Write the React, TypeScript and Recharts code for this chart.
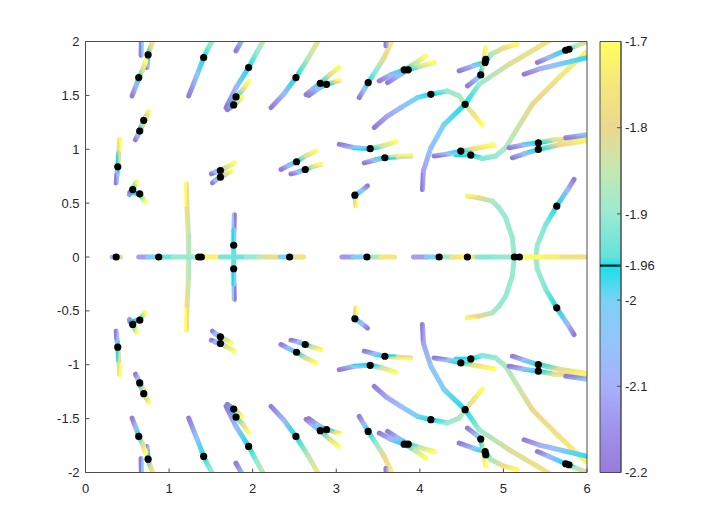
import React from 'react';
import { ComposedChart, Line, Scatter, XAxis, YAxis, BarChart, Bar, ReferenceLine } from 'recharts';

// [x, y, value], upper half (the lower half is its mirror image)
const u01 = [[0.669, 2.04, -2.02], [0.665, 1.87, -2.2]];
const u02 = [[0.82, 2.03, -1.72], [0.78, 1.95, -1.8], [0.749, 1.876, -1.96], [0.74, 1.8, -2.1], [0.737, 1.758, -2.2]];
const u03 = [[0.72, 1.82, -1.7], [0.68, 1.73, -1.82], [0.637, 1.665, -1.96], [0.6, 1.58, -2.08], [0.558, 1.495, -2.2]];
const u04 = [[1.54, 2.04, -1.86], [1.47, 1.94, -1.92], [1.414, 1.851, -1.96], [1.33, 1.68, -2.05], [1.235, 1.495, -2.2]];
const u05 = [[1.88, 2.02, -2.05], [1.8, 1.913, -2.2]];
const u06 = [[2.15, 2.04, -1.84], [2.05, 1.9, -1.9], [1.952, 1.758, -1.96], [1.801, 1.572, -2.07], [1.682, 1.386, -2.2]];
const u07 = [[1.952, 1.628, -1.7], [1.88, 1.55, -1.82], [1.801, 1.486, -1.96], [1.72, 1.4, -2.2]];
const u08 = [[1.87, 1.48, -1.7], [1.82, 1.44, -1.82], [1.773, 1.411, -1.96], [1.697, 1.367, -2.2]];
const u09 = [[2.81, 2.04, -1.75], [2.66, 1.84, -1.86], [2.518, 1.665, -1.96], [2.37, 1.51, -2.08], [2.219, 1.386, -2.2]];
const u10 = [[2.638, 1.507, -2.2], [2.72, 1.56, -2.08], [2.809, 1.612, -1.96], [2.92, 1.69, -1.82], [3.03, 1.758, -1.7]];
const u11 = [[2.67, 1.5, -2.2], [2.78, 1.56, -2.06], [2.884, 1.603, -1.96], [3.0, 1.63, -1.8], [3.036, 1.637, -1.7]];
const u12 = [[0.757, 1.349, -1.7], [0.73, 1.31, -1.82], [0.697, 1.268, -1.96], [0.665, 1.21, -2.08], [0.633, 1.153, -2.2]];
const u13 = [[0.72, 1.29, -1.72], [0.69, 1.23, -1.82], [0.649, 1.169, -1.96], [0.62, 1.12, -2.1], [0.598, 1.088, -2.2]];
const u14 = [[0.41, 1.09, -1.7], [0.398, 0.96, -1.82], [0.386, 0.837, -1.96], [0.375, 0.76, -2.08], [0.367, 0.688, -2.2]];
const u15 = [[0.61, 0.698, -1.7], [0.565, 0.626, -1.96], [0.526, 0.58, -2.15]];
const u16 = [[0.53, 0.6, -2.2], [0.649, 0.586, -1.96], [0.709, 0.516, -1.7]];
const u17 = [[1.207, 0.679, -1.7], [1.215, 0.45, -1.78], [1.231, 0.2, -1.85], [1.235, 0, -1.88]];
const u18 = [[1.781, 0.393, -2.2], [1.776, 0.25, -2.05], [1.773, 0.109, -1.96], [1.773, 0, -1.94]];
const u19 = [[1.506, 0.772, -2.2], [1.56, 0.79, -2.08], [1.614, 0.803, -1.96], [1.68, 0.83, -1.82], [1.781, 0.874, -1.7]];
const u20 = [[1.518, 0.688, -2.2], [1.56, 0.715, -2.08], [1.614, 0.741, -1.96], [1.68, 0.77, -1.82], [1.745, 0.797, -1.7]];
const u21 = [[2.339, 0.812, -2.2], [2.43, 0.85, -2.08], [2.525, 0.884, -1.96], [2.64, 0.94, -1.82], [2.757, 0.983, -1.7]];
const u22 = [[2.458, 0.772, -2.2], [2.55, 0.79, -2.08], [2.629, 0.812, -1.96], [2.72, 0.84, -1.82], [2.817, 0.859, -1.7]];
const u23 = [[3.685, 2.04, -1.72], [3.574, 1.851, -1.8], [3.474, 1.727, -1.9], [3.382, 1.619, -1.96], [3.33, 1.55, -2.06], [3.275, 1.479, -2.2]];
const u24 = [[3.6, 2.04, -2.1], [3.594, 1.96, -2.2]];
const u25 = [[3.514, 1.634, -2.2], [3.65, 1.69, -2.08], [3.813, 1.737, -1.96], [3.95, 1.8, -1.84], [4.072, 1.867, -1.7]];
const u26 = [[3.613, 1.619, -2.2], [3.74, 1.68, -2.08], [3.861, 1.737, -1.96], [4.0, 1.77, -1.84], [4.171, 1.805, -1.7]];
const u27 = [[3.454, 1.2, -2.2], [3.6, 1.3, -2.12], [3.773, 1.386, -2.06], [3.972, 1.479, -2.0], [4.132, 1.51, -1.96], [4.33, 1.541, -1.9], [4.47, 1.495, -1.88], [4.542, 1.417, -1.85], [4.649, 1.32, -1.76], [4.749, 1.225, -1.7]];
const u28 = [[4.031, 0.626, -2.2], [4.043, 0.8, -2.12], [4.132, 1.014, -2.05], [4.291, 1.231, -2.0], [4.542, 1.417, -1.96], [4.709, 1.603, -1.9], [5.068, 1.789, -1.82], [5.546, 2.007, -1.76]];
const u29 = [[3.036, 1.045, -2.2], [3.215, 1.014, -2.06], [3.406, 1.005, -1.96], [3.55, 1.03, -1.84], [3.713, 1.07, -1.7]];
const u30 = [[3.335, 0.874, -2.2], [3.46, 0.9, -2.06], [3.582, 0.921, -1.96], [3.74, 0.93, -1.82], [3.893, 0.937, -1.72]];
const u31 = [[3.374, 0.66, -2.2], [3.3, 0.614, -2.05], [3.223, 0.574, -1.96], [3.23, 0.52, -1.8], [3.235, 0.474, -1.7]];
const u32 = [[4.171, 0.937, -2.2], [4.351, 0.958, -2.05], [4.49, 0.983, -1.96], [4.649, 1.005, -1.78], [4.888, 1.039, -1.7]];
const u33 = [[4.43, 0.95, -2.0], [4.61, 0.946, -1.96], [4.749, 0.914, -1.92], [4.909, 0.937, -1.9], [5.028, 1.014, -1.88], [5.148, 1.169, -1.85], [5.346, 1.417, -1.8], [5.665, 1.665, -1.76], [5.984, 1.898, -1.72]];
const u34 = [[4.47, 1.727, -2.2], [4.649, 1.777, -2.05], [4.781, 1.805, -1.96], [4.85, 1.88, -1.88], [5.0, 1.94, -1.78], [5.167, 1.975, -1.7]];
const u35 = [[4.569, 1.588, -2.2], [4.685, 1.656, -2.05], [4.729, 1.69, -1.96], [4.76, 1.8, -1.78], [4.79, 1.94, -1.7]];
const u36 = [[5.406, 1.805, -2.2], [5.546, 1.851, -2.08], [5.745, 1.919, -1.96], [5.88, 1.963, -1.86], [6.0, 2.0, -1.8]];
const u37 = [[5.247, 1.696, -2.2], [5.45, 1.75, -2.1], [5.606, 1.777, -2.05], [6.0, 1.851, -1.97]];
const u38 = [[5.068, 1.014, -2.2], [5.247, 1.042, -2.07], [5.418, 1.06, -1.96], [5.606, 1.088, -1.82], [5.984, 1.107, -1.72]];
const u39 = [[5.107, 0.921, -2.2], [5.247, 0.958, -2.07], [5.418, 0.998, -1.96], [5.665, 1.042, -1.8], [5.984, 1.079, -1.72]];
const u40 = [[5.745, 1.107, -2.2], [6.0, 1.135, -2.05]];
const u41 = [[4.569, 0.565, -1.72], [4.709, 0.549, -1.8], [4.868, 0.518, -1.88], [4.948, 0.456, -1.9], [5.028, 0.363, -1.9], [5.107, 0.177, -1.9], [5.131, 0, -1.9]];
const u42 = [[5.845, 0.72, -2.2], [5.765, 0.62, -2.08], [5.638, 0.472, -1.96], [5.506, 0.3, -1.92], [5.406, 0.114, -1.9], [5.387, 0, -1.9]];

// pieces lying on the real axis
const a01 = [[0.319, 0, -2.2], [0.367, 0, -1.96], [0.418, 0, -1.7]];
const a02 = [[0.637, 0, -2.2], [0.75, 0, -2.05], [0.876, 0, -1.96], [1.05, 0, -1.92], [1.215, 0, -1.88]];
const a03 = [[1.215, 0, -1.88], [1.354, 0, -1.92], [1.42, 0, -1.75], [1.59, 0, -1.7]];
const a04 = [[1.614, 0, -1.9], [1.773, 0, -1.96], [1.92, 0, -1.92], [2.07, 0, -1.88], [2.2, 0, -1.8], [2.307, 0, -1.76]];
const a05 = [[2.33, 0, -2.05], [2.442, 0, -1.96], [2.52, 0, -1.82], [2.609, 0, -1.7]];
const a06 = [[3.068, 0, -2.2], [3.2, 0, -2.08], [3.367, 0, -1.96], [3.53, 0, -1.8], [3.697, 0, -1.7]];
const a07 = [[3.924, 0, -2.2], [4.08, 0, -2.06], [4.231, 0, -1.96], [4.38, 0, -1.8], [4.5, 0, -1.72]];
const a08 = [[4.5, 0, -1.72], [4.569, 0, -1.74], [4.67, 0, -1.78]];
const a09 = [[4.685, 0, -1.93], [4.9, 0, -1.91], [5.131, 0, -1.9]];
const a10 = [[5.131, 0, -1.85], [5.25, 0, -1.72], [5.5, 0, -1.7], [5.7, 0, -1.76], [6.0, 0, -1.78]];

// black markers (value -1.96)
const upperDots = [
  [0.749, 1.876], [0.637, 1.665], [1.414, 1.851], [0.697, 1.268], [0.649, 1.169], [0.386, 0.837],
  [0.565, 0.626], [0.649, 0.586], [1.952, 1.758], [1.801, 1.486], [1.773, 1.411], [2.518, 1.665],
  [2.809, 1.612], [2.884, 1.603], [1.614, 0.803], [1.614, 0.741], [2.525, 0.884], [2.629, 0.812],
  [1.773, 0.109], [3.382, 1.619], [3.813, 1.737], [3.861, 1.737], [4.132, 1.51], [4.542, 1.417],
  [3.406, 1.005], [3.582, 0.921], [3.223, 0.574], [4.49, 0.983], [4.61, 0.946], [4.789, 1.835],
  [4.781, 1.805], [4.729, 1.69], [5.745, 1.919], [5.785, 1.928], [5.418, 1.06], [5.418, 0.998],
  [5.638, 0.472],
];
const axisDots = [0.367, 0.876, 1.354, 1.386, 2.442, 3.367, 4.231, 4.569, 5.131, 5.191];

const xTicks = [0, 1, 2, 3, 4, 5, 6];
const yTicks = [-2, -1.5, -1, -0.5, 0, 0.5, 1, 1.5, 2];
const cbTicks = [-2.2, -2.1, -2, -1.96, -1.9, -1.8, -1.7];

// colour map of the colour bar
const STOPS: [number, number[]][] = [
  [-2.2, [150, 124, 216]],
  [-2.15, [160, 146, 236]],
  [-2.1, [168, 176, 250]],
  [-2.05, [148, 196, 250]],
  [-2.0, [122, 210, 246]],
  [-1.975, [60, 220, 238]],
  [-1.96, [24, 224, 232]],
  [-1.95, [100, 226, 220]],
  [-1.9, [154, 234, 210]],
  [-1.85, [196, 232, 176]],
  [-1.8, [236, 216, 142]],
  [-1.75, [246, 230, 124]],
  [-1.7, [255, 255, 96]],
];

const cmap = (v: number) => {
  const t = Math.max(-2.2, Math.min(-1.7, v));
  for (let i = 0; i < STOPS.length - 1; i++) {
    const [a, ca] = STOPS[i];
    const [b, cb] = STOPS[i + 1];
    if (t <= b) {
      const f = (t - a) / (b - a);
      const c = ca.map((k, j) => Math.round(k + (cb[j] - k) * f));
      return `rgb(${c[0]},${c[1]},${c[2]})`;
    }
  }
  return 'rgb(255,255,96)';
};

const upper = [u01, u02, u03, u04, u05, u06, u07, u08, u09, u10, u11, u12, u13, u14, u15, u16, u17, u18, u19, u20, u21,
  u22, u23, u24, u25, u26, u27, u28, u29, u30, u31, u32, u33, u34, u35, u36, u37, u38, u39, u40, u41, u42];
const onAxis = [a01, a02, a03, a04, a05, a06, a07, a08, a09, a10];
const curves = [...upper, ...upper.map((c) => c.map(([x, y, v]) => [x, -y, v])), ...onAxis];

// every curve is drawn as short pieces, each with its own colour ramp
const segments: any[] = [];
curves.forEach((c) => {
  for (let i = 0; i < c.length - 1; i++) {
    const [x1, y1, v1] = c[i];
    const [x2, y2, v2] = c[i + 1];
    const flat = Math.abs(x2 - x1) < 1e-6 || Math.abs(y2 - y1) < 1e-6;
    segments.push({
      id: `seg${segments.length}`,
      data: [{ x: x1, y: y1 }, { x: x2, y: y2 }],
      c1: cmap(v1),
      c2: cmap(v2),
      flat,
      avg: cmap((v1 + v2) / 2),
      gx1: x2 >= x1 ? 0 : 1,
      gy1: y2 <= y1 ? 0 : 1,
    });
  }
});

const dots = [
  ...upperDots.map(([x, y]) => ({ x, y })),
  ...upperDots.map(([x, y]) => ({ x, y: -y })),
  ...axisDots.map((x) => ({ x, y: 0 })),
];

const font = { fontSize: 13, fill: '#262626', fontFamily: 'Liberation Sans, Arial, sans-serif' };
const frame = '#4d4d4d';

const Dot = (props: any) => <circle cx={props.cx} cy={props.cy} r={3.6} fill="#000" />;

export default function App() {
  return (
    <div style={{ position: 'absolute', left: 0, top: 0, width: 708, height: 532, background: '#fff' }}>
      <div style={{ position: 'absolute', left: 0, top: 0 }}>
        <ComposedChart width={708} height={532} margin={{ top: 40.5, right: 120, bottom: 29.5, left: 25.5 }}>
          <defs>
            {segments.filter((s) => !s.flat).map((s) => (
              <linearGradient key={s.id} id={s.id} x1={s.gx1} y1={s.gy1} x2={1 - s.gx1} y2={1 - s.gy1}>
                <stop offset="0" stopColor={s.c1} />
                <stop offset="1" stopColor={s.c2} />
              </linearGradient>
            ))}
          </defs>
          <XAxis type="number" dataKey="x" domain={[0, 6]} ticks={xTicks} allowDataOverflow height={30}
            tickSize={-4} tickMargin={15} tick={font} axisLine={{ stroke: frame }} tickLine={{ stroke: frame }} />
          <XAxis xAxisId="top" orientation="top" type="number" domain={[0, 6]} ticks={xTicks} allowDataOverflow height={1}
            tickSize={-4} tick={false} axisLine={{ stroke: frame }} tickLine={{ stroke: frame }} />
          <YAxis type="number" dataKey="y" domain={[-2, 2]} ticks={yTicks} allowDataOverflow width={60}
            tickSize={-4} tickMargin={10} tick={font} axisLine={{ stroke: frame }} tickLine={{ stroke: frame }} />
          <YAxis yAxisId="right" orientation="right" type="number" domain={[-2, 2]} ticks={yTicks} allowDataOverflow width={1}
            tickSize={-4} tick={false} axisLine={{ stroke: frame }} tickLine={{ stroke: frame }} />
          {segments.map((s) => (
            <Line key={s.id} data={s.data} dataKey="y" type="linear" stroke={s.flat ? s.avg : `url(#${s.id})`}
              strokeWidth={5} strokeLinecap="round" dot={false} activeDot={false} legendType="none"
              isAnimationActive={false} />
          ))}
          <Scatter data={dots} dataKey="y" shape={<Dot />} isAnimationActive={false} legendType="none" />
        </ComposedChart>
      </div>
      <div style={{ position: 'absolute', left: 0, top: 0 }}>
        <BarChart width={708} height={532} data={[{ n: 'cb', v: [-2.2, -1.7] }]}
          margin={{ top: 41.5, right: 27, bottom: 59.5, left: 600 }} barCategoryGap={0}>
          <defs>
            <linearGradient id="cbar" x1="0" y1="0" x2="0" y2="1">
              {[...STOPS].reverse().map(([v]) => (
                <stop key={v} offset={(-1.7 - v) / 0.5} stopColor={cmap(v)} />
              ))}
            </linearGradient>
          </defs>
          <XAxis dataKey="n" hide />
          <YAxis orientation="right" type="number" domain={[-2.2, -1.7]} ticks={cbTicks} width={60}
            tickSize={-4} tickMargin={8} tick={font} axisLine={{ stroke: frame }} tickLine={{ stroke: frame }} />
          <Bar dataKey="v" fill="url(#cbar)" stroke={frame} strokeWidth={1} isAnimationActive={false} />
          <ReferenceLine y={-1.96} stroke="#000" strokeWidth={2} />
        </BarChart>
      </div>
    </div>
  );
}
